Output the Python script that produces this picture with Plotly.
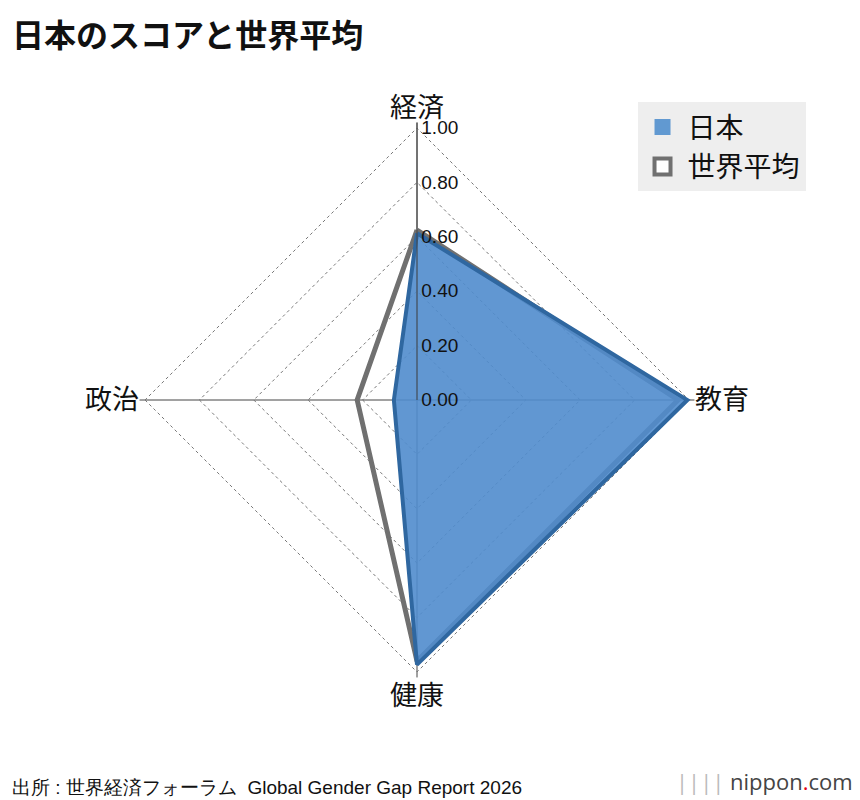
import plotly.graph_objects as go

categories = ["経済", "教育", "健康", "政治"]
japan = [0.613, 0.994, 0.973, 0.085]
world = [0.625, 0.96, 0.96, 0.22]
tick_vals = [0, 0.2, 0.4, 0.6, 0.8, 1.0]
tick_text = ["0.00", "0.20", "0.40", "0.60", "0.80", "1.00"]

font = "Noto Sans CJK JP"
fig = go.Figure()
fig.add_trace(go.Scatterpolar(r=world + [world[0]], theta=categories + [categories[0]],
    name="世界平均", line=dict(color="#707070", width=5), mode="lines", showlegend=False))
fig.add_trace(go.Scatterpolar(r=japan + [japan[0]], theta=categories + [categories[0]],
    name="日本", fill="toself", fillcolor="rgba(80,140,205,0.9)", line=dict(color="#2f67a0", width=4),
    mode="lines", showlegend=False))
fig.add_trace(go.Scatterpolar(r=[None], theta=[categories[0]], name="日本", mode="markers",
    marker=dict(symbol="square", size=26, color="#6199d1")))
fig.add_trace(go.Scatterpolar(r=[None], theta=[categories[0]], name="世界平均", mode="markers",
    marker=dict(symbol="square", size=22, color="white", line=dict(color="#707070", width=4))))

R = 1.02
half = 272 * R
cx, cy = 409, 392
fig.update_layout(
    width=860, height=800, margin=dict(l=0, r=0, t=0, b=0),
    paper_bgcolor="white", font=dict(family=font, color="#111"),
    polar=dict(
        domain=dict(x=[(cx - half)/860, (cx + half)/860], y=[1-(cy + half)/800, 1-(cy - half)/800]),
        gridshape="linear", bgcolor="white",
        radialaxis=dict(range=[0, R], tickvals=tick_vals, ticktext=tick_text, angle=90,
            tickangle=90, showline=True, linecolor="#444", linewidth=1,
            gridcolor="#777", griddash="dot", tickfont=dict(size=19, color="#111", family="Liberation Sans"),
            ticks="", layer="above traces"),
        angularaxis=dict(direction="clockwise", rotation=90, showline=False,
            gridcolor="#444", tickfont=dict(size=27, color="#111"), ticks="", layer="above traces"),
    ),
    legend=dict(x=0.732, y=0.882, xanchor="left", yanchor="top", bgcolor="#eeeeee",
        font=dict(size=28), itemwidth=40, tracegroupgap=10, borderwidth=0),
    showlegend=True,
)
fig.add_annotation(text="<b>日本のスコアと世界平均</b>", x=0.002, y=1.0, xref="paper", yref="paper",
    xanchor="left", yanchor="top", showarrow=False, font=dict(size=32))
fig.add_annotation(text="出所 : 世界経済フォーラム  Global Gender Gap Report 2026", x=0.002, y=0.01,
    xref="paper", yref="paper", xanchor="left", yanchor="bottom", showarrow=False,
    font=dict(size=19, family="Liberation Sans"))
fig.add_annotation(text="<span style='color:#bbb'>||||</span> nippon<span style='color:#e60012'>.</span>com",
    x=0.985, y=0.012, xref="paper", yref="paper", xanchor="right", yanchor="bottom", showarrow=False,
    font=dict(size=22, color="#444", family="Open Sans"))
fig.write_html("out.html")
